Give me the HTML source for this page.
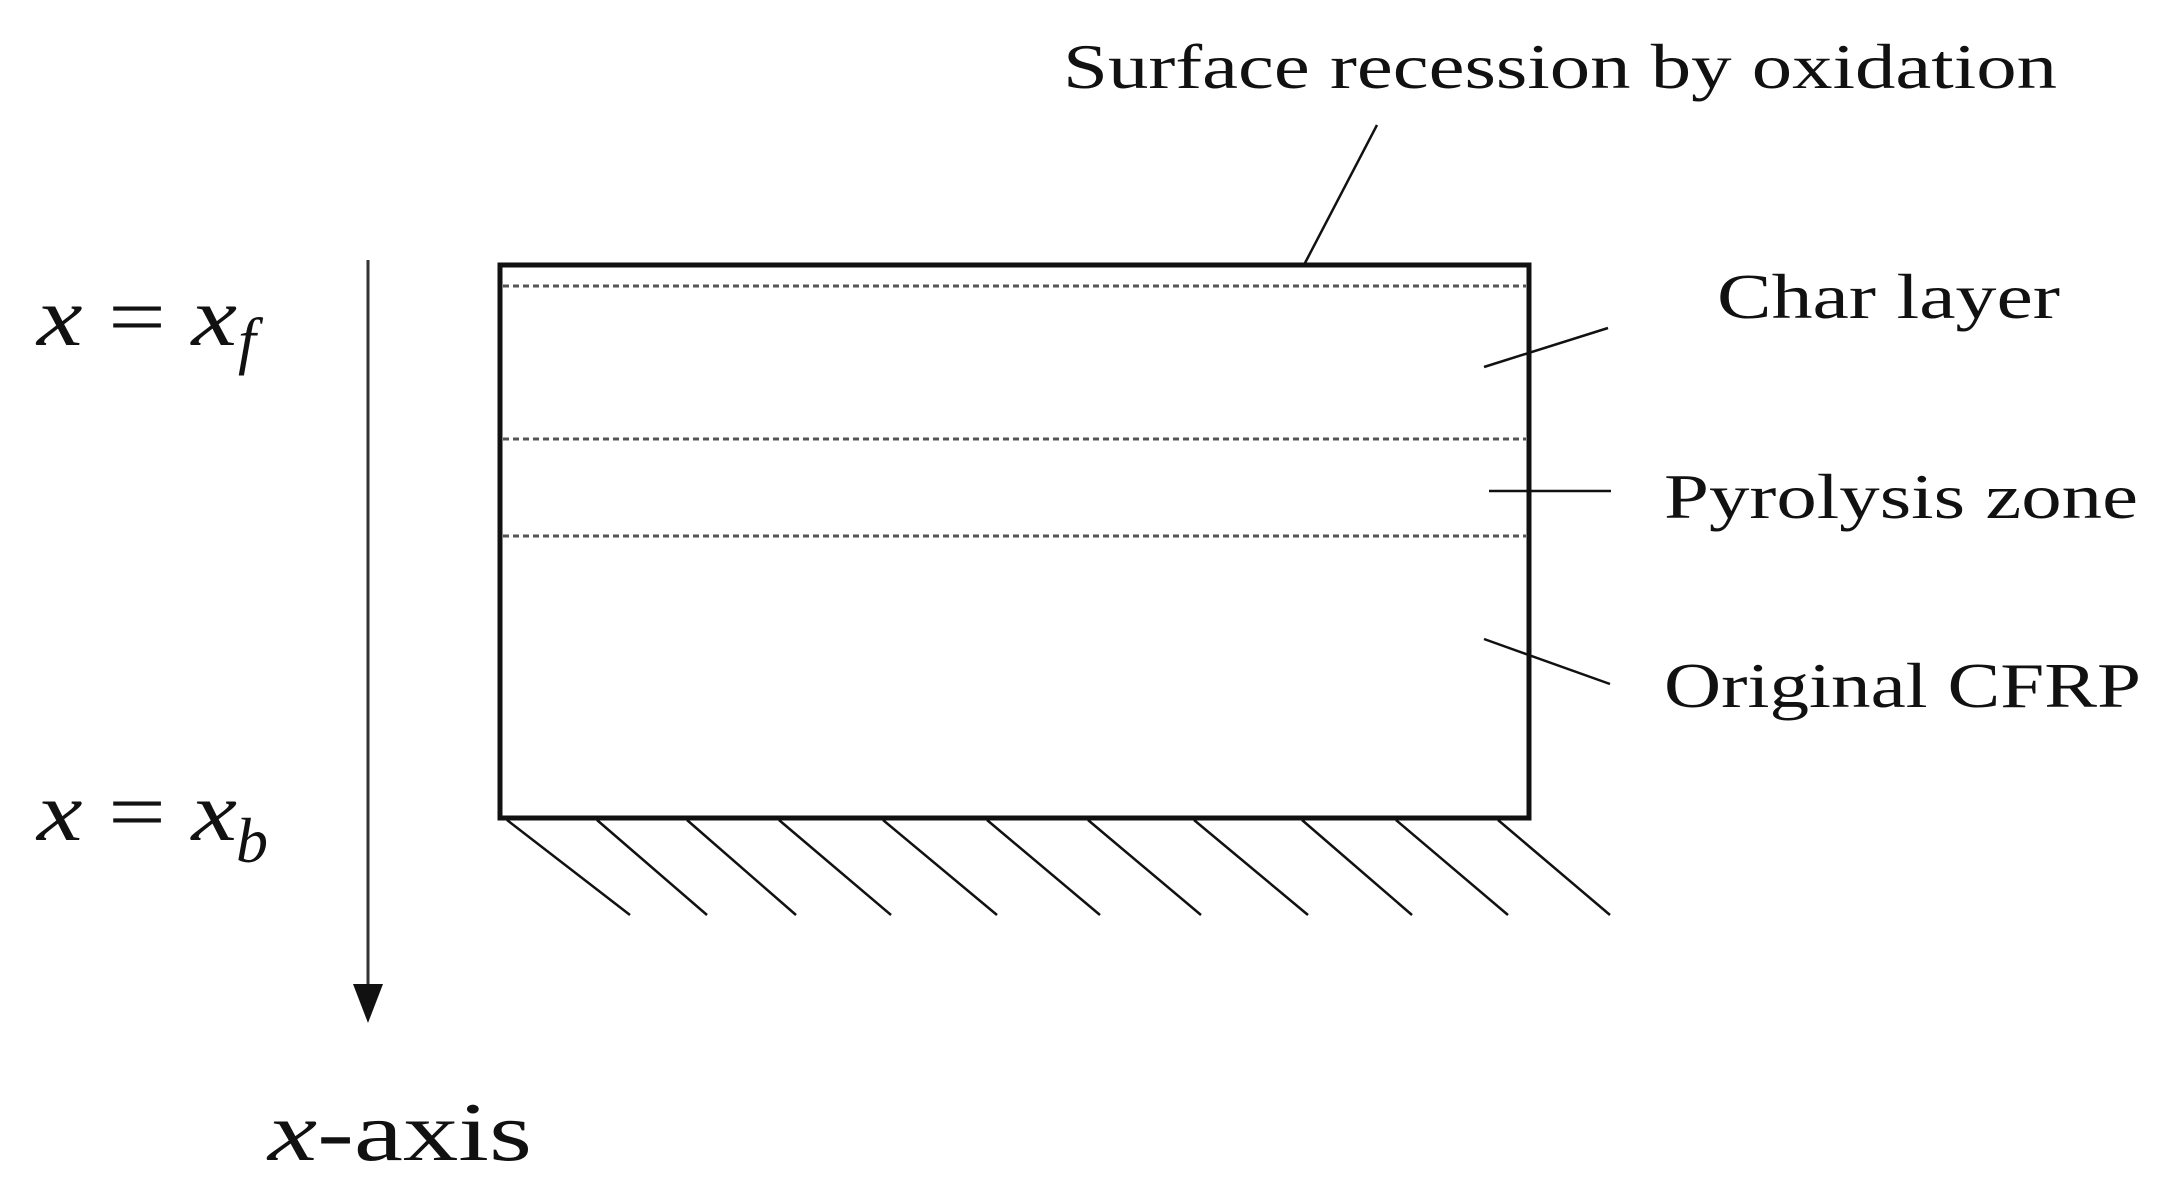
<!DOCTYPE html>
<html><head><meta charset="utf-8"><style>
html,body{margin:0;padding:0;background:#fff;}
svg{display:block;}
text{font-family:"Liberation Serif",serif;fill:#111;}
</style></head><body>
<svg width="2169" height="1195" viewBox="0 0 2169 1195" xmlns="http://www.w3.org/2000/svg">
<rect x="500" y="265" width="1029" height="553" fill="none" stroke="#111" stroke-width="5"/>
<g stroke="#555" stroke-width="3" stroke-dasharray="6,4">
<line x1="503" y1="286" x2="1526" y2="286"/>
<line x1="503" y1="439" x2="1526" y2="439"/>
<line x1="503" y1="536" x2="1526" y2="536"/>
</g>
<line x1="368" y1="260" x2="368" y2="990" stroke="#333" stroke-width="3"/>
<polygon points="353,984 383,984 368,1023" fill="#111"/>
<g stroke="#111" stroke-width="2.5">
<line x1="507" y1="820" x2="630" y2="915"/>
<line x1="597" y1="820" x2="707" y2="915"/>
<line x1="687" y1="820" x2="796" y2="915"/>
<line x1="779" y1="820" x2="891" y2="915"/>
<line x1="883" y1="820" x2="997" y2="915"/>
<line x1="987" y1="820" x2="1100" y2="915"/>
<line x1="1088" y1="820" x2="1201" y2="915"/>
<line x1="1194" y1="820" x2="1308" y2="915"/>
<line x1="1302" y1="820" x2="1412" y2="915"/>
<line x1="1396" y1="820" x2="1508" y2="915"/>
<line x1="1498" y1="820" x2="1610" y2="915"/>
<line x1="1377" y1="125" x2="1305" y2="263"/>
<line x1="1608" y1="328" x2="1484" y2="367"/>
<line x1="1489" y1="491" x2="1611" y2="491"/>
<line x1="1484" y1="639" x2="1610" y2="684"/>
</g>
<text x="1063" y="88" font-size="64" textLength="994" lengthAdjust="spacingAndGlyphs">Surface recession by oxidation</text>
<text x="1717" y="318" font-size="64" textLength="343" lengthAdjust="spacingAndGlyphs">Char layer</text>
<text x="1664" y="518" font-size="64" textLength="474" lengthAdjust="spacingAndGlyphs">Pyrolysis zone</text>
<text x="1664" y="707" font-size="64" textLength="477" lengthAdjust="spacingAndGlyphs">Original CFRP</text>
<text x="37" y="345" font-size="84" textLength="200" lengthAdjust="spacingAndGlyphs"><tspan font-style="italic">x</tspan> = <tspan font-style="italic">x</tspan></text>
<text x="238" y="362" font-size="64" font-style="italic">f</text>
<text x="37" y="840" font-size="84" textLength="200" lengthAdjust="spacingAndGlyphs"><tspan font-style="italic">x</tspan> = <tspan font-style="italic">x</tspan></text>
<text x="236" y="862" font-size="64" font-style="italic">b</text>
<text x="268" y="1160" font-size="84" textLength="264" lengthAdjust="spacingAndGlyphs"><tspan font-style="italic">x</tspan>-axis</text>
</svg>
</body></html>
